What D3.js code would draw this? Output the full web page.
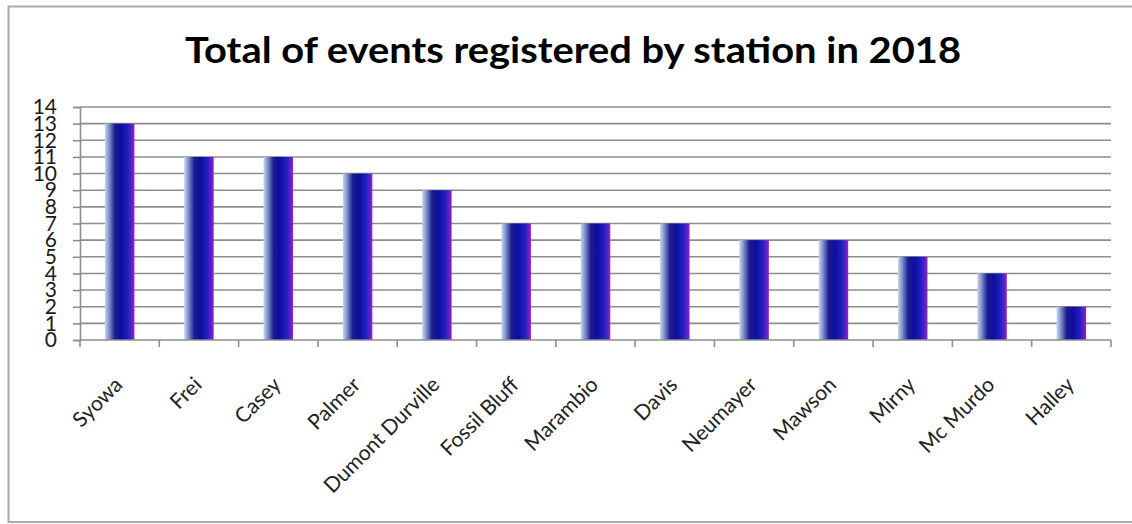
<!DOCTYPE html>
<html>
<head>
<meta charset="utf-8">
<script src="https://cdn.jsdelivr.net/npm/d3@7/dist/d3.min.js"></script>
<style>
    html, body { margin: 0; padding: 0; background: #fff; }
    svg { display: block; }
</style>
</head>
<body>
<script>
const stations = ["Syowa", "Frei", "Casey", "Palmer", "Dumont Durville", "Fossil Bluff",
    "Marambio", "Davis", "Neumayer", "Mawson", "Mirny", "Mc Murdo", "Halley"];
const eventCounts = [13, 11, 11, 10, 9, 7, 7, 7, 6, 6, 5, 4, 2];
const yTicks = [0, 1, 2, 3, 4, 5, 6, 7, 8, 9, 10, 11, 12, 13, 14];
const chartTitle = "Total of events registered by station in 2018";

const width = 1132;
const height = 524;
const plot = { left: 80, right: 1111, top: 107, bottom: 340 };

const svg = d3.select("body").append("svg")
    .attr("width", width)
    .attr("height", height);

// bar fill: pale blue -> navy -> blue -> purple edge
const grad = svg.append("defs").append("linearGradient")
    .attr("id", "barFill")
    .attr("x1", "0%").attr("x2", "100%")
    .attr("y1", "0%").attr("y2", "0%");
[
    ["0%", "#c9d7f0"],
    ["14%", "#8193cc"],
    ["34%", "#1c1c8e"],
    ["55%", "#0d0d9e"],
    ["78%", "#1f1fbf"],
    ["91%", "#5a22c6"],
    ["100%", "#9a22d0"]
].forEach(s => grad.append("stop").attr("offset", s[0]).attr("stop-color", s[1]));

// outer chart frame (right edge runs off the picture)
svg.append("rect")
    .attr("x", 8.5).attr("y", 6.5)
    .attr("width", 1140).attr("height", 515.5)
    .attr("fill", "none")
    .attr("stroke", "#aaaaaa")
    .attr("stroke-width", 2);

svg.append("text")
    .attr("x", 573)
    .attr("y", 63)
    .attr("text-anchor", "middle")
    .attr("textLength", 776)
    .attr("lengthAdjust", "spacingAndGlyphs")
    .style("font-family", "Lato")
    .style("font-weight", "bold")
    .style("font-size", "37px")
    .style("fill", "#000")
    .text(chartTitle);

const x = d3.scaleBand()
    .domain(stations)
    .range([plot.left, plot.right])
    .paddingInner(0)
    .paddingOuter(0);

const y = d3.scaleLinear()
    .domain([0, 14])
    .range([plot.bottom, plot.top]);

// horizontal grid
svg.append("g")
    .selectAll("line")
    .data(yTicks.filter(d => d > 0))
    .enter().append("line")
    .attr("x1", plot.left).attr("x2", plot.right)
    .attr("y1", d => y(d)).attr("y2", d => y(d))
    .attr("stroke", "#8e8e8e")
    .attr("stroke-width", 1.6);

// y axis
const yAxis = svg.append("g")
    .attr("transform", `translate(${plot.left},0)`)
    .call(d3.axisLeft(y).tickValues(yTicks).tickSize(7).tickPadding(16));
yAxis.select(".domain").attr("stroke", "#8e8e8e").attr("stroke-width", 1.6);
yAxis.selectAll(".tick line").attr("stroke", "#8e8e8e").attr("stroke-width", 1.6);
yAxis.selectAll(".tick text")
    .style("font-family", "Lato")
    .style("font-size", "21px")
    .style("fill", "#1a1a1a");

// bars
const barW = x.bandwidth() * 0.372;
svg.append("g")
    .selectAll("rect")
    .data(eventCounts)
    .enter().append("rect")
    .attr("x", (d, i) => x(stations[i]) + (x.bandwidth() - barW) / 2)
    .attr("y", d => y(d))
    .attr("width", barW)
    .attr("height", d => y(0) - y(d))
    .attr("fill", "url(#barFill)");

// x axis: line with ticks on band edges
const xAxis = svg.append("g");
xAxis.append("line")
    .attr("x1", plot.left).attr("x2", plot.right)
    .attr("y1", plot.bottom).attr("y2", plot.bottom)
    .attr("stroke", "#8e8e8e")
    .attr("stroke-width", 1.6);
const edges = stations.map(s => x(s)).concat([plot.right]);
xAxis.selectAll("line.edge")
    .data(edges)
    .enter().append("line")
    .attr("class", "edge")
    .attr("x1", d => d).attr("x2", d => d)
    .attr("y1", plot.bottom).attr("y2", plot.bottom + 7)
    .attr("stroke", "#8e8e8e")
    .attr("stroke-width", 1.6);

// rotated category labels
xAxis.selectAll("text")
    .data(stations)
    .enter().append("text")
    .attr("transform", d => `translate(${x(d) + x.bandwidth() / 2 + 4},386) rotate(-45)`)
    .attr("text-anchor", "end")
    .style("font-family", "Lato")
    .style("font-size", "21px")
    .style("fill", "#222")
    .text(d => d);
</script>
</body>
</html>
